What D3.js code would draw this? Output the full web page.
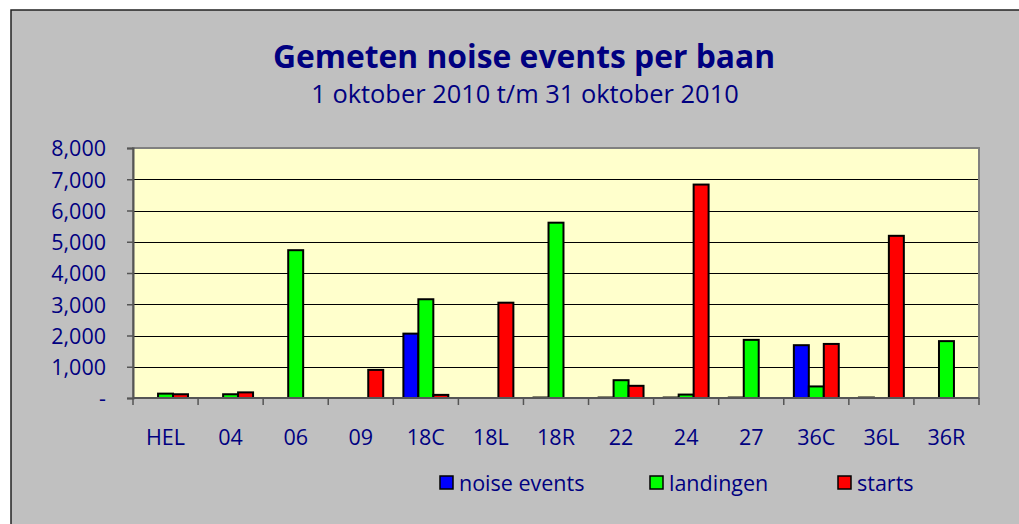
<!DOCTYPE html>
<html><head><meta charset="utf-8">
<script src="https://cdn.jsdelivr.net/npm/d3@7"></script>
<style>html,body{margin:0;padding:0;background:#fff;}svg{display:block;}</style>
</head><body>
<script>
const categories = ["HEL","04","06","09","18C","18L","18R","22","24","27","36C","36L","36R"];
const noiseEvents = [0, 0, 0, 0, 2060, 0, 15, 15, 15, 15, 1690, 15, 0];
const landingen   = [140, 120, 4730, 0, 3160, 0, 5610, 570, 110, 1860, 370, 0, 1820];
const starts      = [120, 180, 0, 900, 100, 3050, 0, 390, 6830, 0, 1730, 5190, 0];
const seriesNames = ["noise events","landingen","starts"];
const seriesColors = ["#0000ff","#00ff00","#ff0000"];
const yTicks = [0,1000,2000,3000,4000,5000,6000,7000,8000];

const W = 1019, H = 524;
const svg = d3.select("body").append("svg").attr("width", W).attr("height", H);
const navy = "#000080";
const font = "'Open Sans', 'Noto Sans', sans-serif";

// frame
svg.append("rect").attr("x",0).attr("y",0).attr("width",W).attr("height",H).attr("fill","#fff");
svg.append("rect").attr("x",11).attr("y",10).attr("width",W+20).attr("height",H+20)
  .attr("fill","#c0c0c0").attr("stroke","#222").attr("stroke-width",1.5);

// titles
svg.append("text").attr("x",524).attr("y",68).attr("text-anchor","middle")
  .attr("font-family",font).attr("font-weight","bold").attr("font-size",31.8).attr("fill",navy)
  .text("Gemeten noise events per baan");
svg.append("text").attr("x",525).attr("y",103).attr("text-anchor","middle")
  .attr("font-family",font).attr("font-size",25.4).attr("fill",navy)
  .text("1 oktober 2010 t/m 31 oktober 2010");

const pL = 133, pR = 979, pT = 148, pB = 398;
const x = d3.scaleBand().domain(categories).range([pL,pR]).paddingInner(0.31).paddingOuter(0.155);
const step = (pR-pL)/categories.length;
const xs = d3.scaleBand().domain(seriesNames).range([0, x.bandwidth()]);
const y = d3.scaleLinear().domain([0,8000]).range([pB, pT]);

svg.append("rect").attr("x",pL).attr("y",pT).attr("width",pR-pL).attr("height",pB-pT)
  .attr("fill","#ffffcc");

// gridlines
svg.append("g").selectAll("line").data(yTicks.filter(d=>d>0 && d<8000)).join("line")
  .attr("x1",pL).attr("x2",pR).attr("y1",d=>Math.round(y(d))+0.5).attr("y2",d=>Math.round(y(d))+0.5)
  .attr("stroke","#000").attr("stroke-width",1);

// bars
const data = [noiseEvents, landingen, starts];
const gBars = svg.append("g");
categories.forEach((c,i)=>{
  seriesNames.forEach((s,j)=>{
    const v = data[j][i];
    if (v <= 0) return;
    gBars.append("rect")
      .attr("x", x(c)+xs(s)).attr("y", y(v))
      .attr("width", xs.bandwidth()).attr("height", pB - y(v))
      .attr("fill", seriesColors[j]).attr("stroke","#000").attr("stroke-width",2);
  });
});

// plot border
svg.append("rect").attr("x",pL).attr("y",pT).attr("width",pR-pL).attr("height",pB-pT)
  .attr("fill","none").attr("stroke","#808080").attr("stroke-width",2);

// y axis
const yAxis = d3.axisLeft(y).tickValues(yTicks).tickSize(6).tickPadding(21)
  .tickFormat(d => d===0 ? "-" : d3.format(",")(d));
const gy = svg.append("g").attr("transform",`translate(${pL},0)`).call(yAxis);
gy.select(".domain").attr("stroke","#555").attr("stroke-width",2);
gy.selectAll(".tick line").attr("stroke","#555").attr("stroke-width",1.5);
gy.selectAll(".tick text").attr("font-family",font).attr("font-size",21.5).attr("fill",navy).attr("dy","0.36em");

// x axis
const gx = svg.append("g").attr("transform",`translate(0,${pB})`);
gx.append("line").attr("x1",pL).attr("x2",pR).attr("stroke","#555").attr("stroke-width",2);
gx.selectAll(".tk").data(d3.range(categories.length+1)).join("line").attr("class","tk")
  .attr("x1",i=>pL+i*step).attr("x2",i=>pL+i*step).attr("y1",0).attr("y2",7)
  .attr("stroke","#555").attr("stroke-width",1.5);
gx.selectAll("text").data(categories).join("text")
  .attr("x",c=>x(c)+x.bandwidth()/2).attr("y",47).attr("text-anchor","middle")
  .attr("font-family",font).attr("font-size",21.5).attr("fill",navy).text(c=>c);

// legend
const legendX = [440, 650, 838];
seriesNames.forEach((s,j)=>{
  svg.append("rect").attr("x",legendX[j]).attr("y",476).attr("width",13).attr("height",13)
    .attr("fill",seriesColors[j]).attr("stroke","#000").attr("stroke-width",1.5);
  svg.append("text").attr("x",legendX[j]+19).attr("y",491)
    .attr("font-family",font).attr("font-size",21.5).attr("fill",navy).text(s);
});
</script>
</body></html>
